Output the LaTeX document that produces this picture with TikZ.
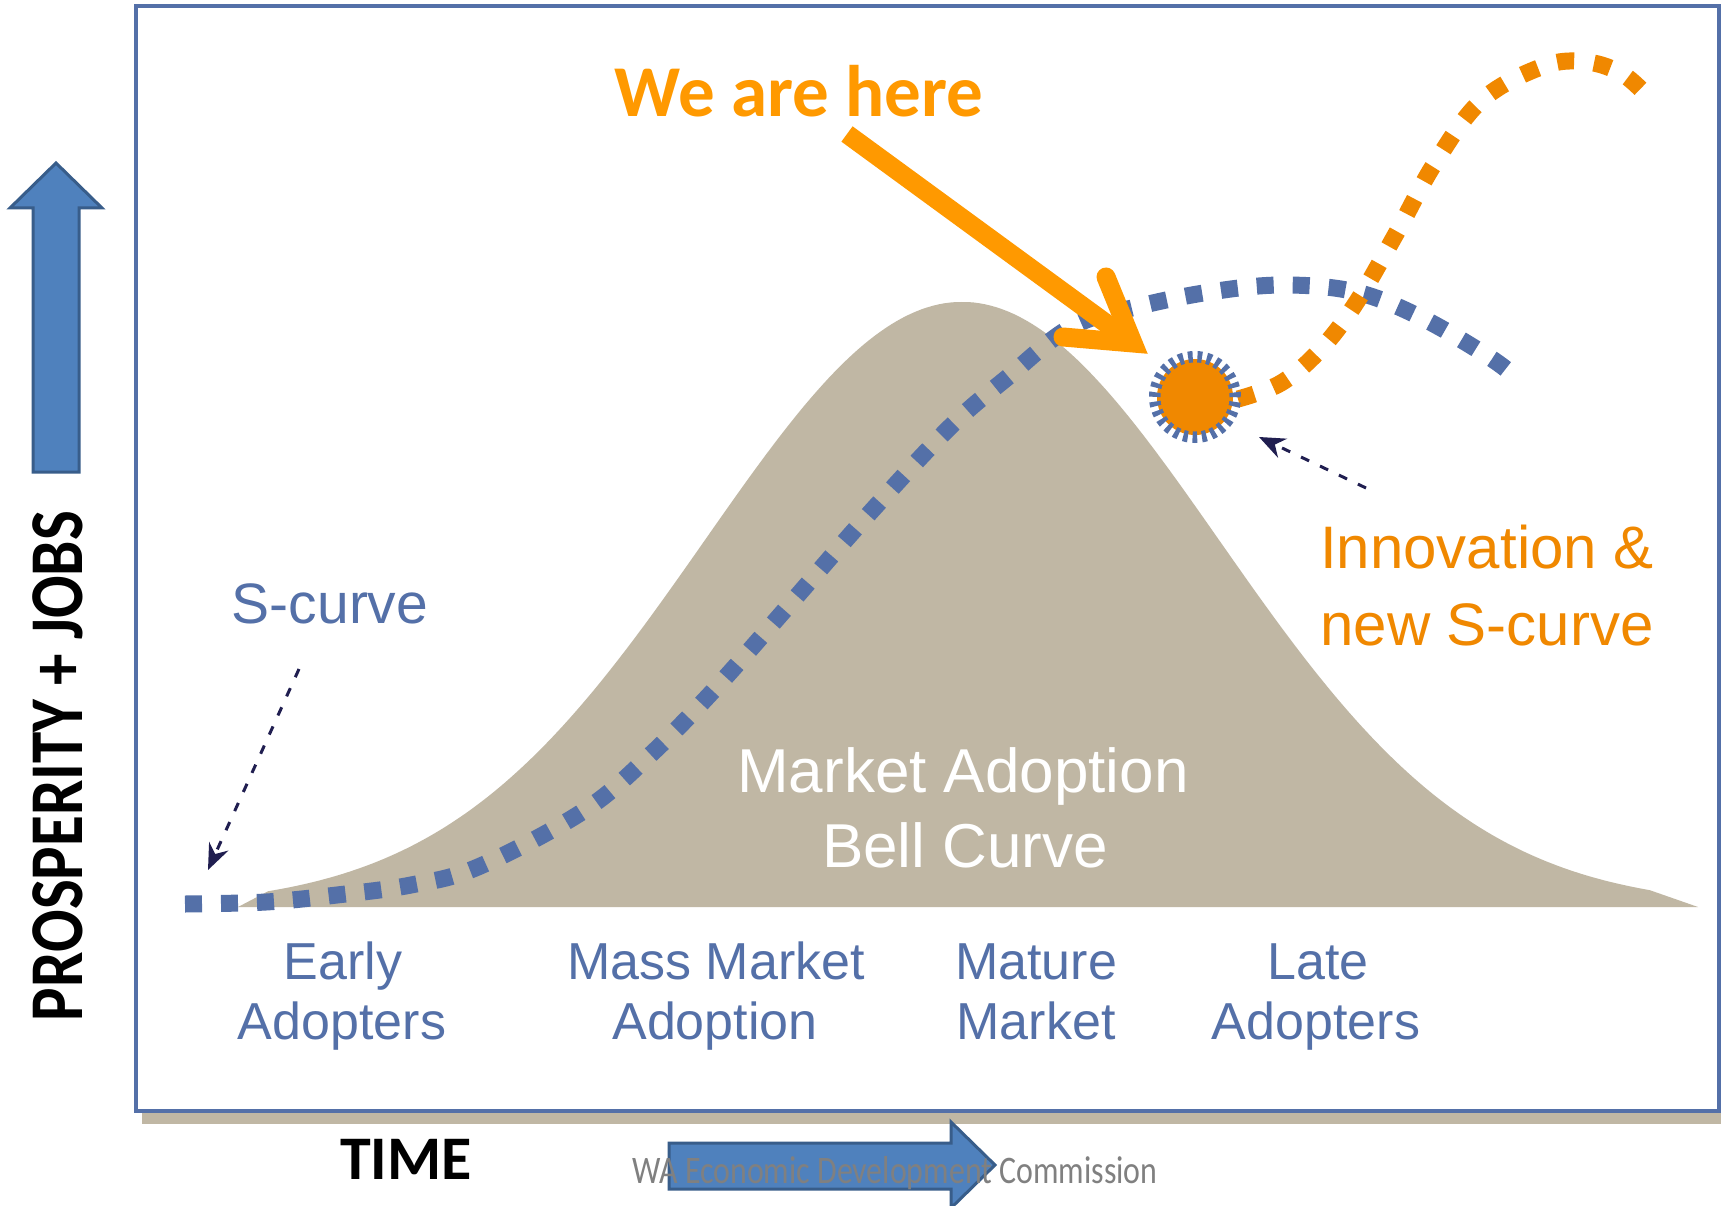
\documentclass[tikz,border=0pt]{standalone}
\usepackage{fontspec}
\usepackage{graphicx}
\newfontfamily\calfont{Carlito}
\newfontfamily\arifont{Liberation Sans}
\usetikzlibrary{arrows.meta}
\definecolor{frameblue}{RGB}{84,112,168}
\definecolor{tanc}{RGB}{192,183,164}
\definecolor{arrowfill}{RGB}{79,129,189}
\definecolor{arrowedge}{RGB}{56,93,138}
\definecolor{herearrow}{RGB}{255,153,0}
\definecolor{dotorange}{RGB}{240,136,0}
\definecolor{navyc}{RGB}{32,30,80}
\definecolor{wmgray}{RGB}{128,128,128}
\begin{document}
\begin{tikzpicture}[x=1pt,y=-1pt,
  bluedots/.style={draw=frameblue, line width=17pt, dash pattern=on 17pt off 19pt},
  orangedots/.style={draw=dotorange, line width=17pt, dash pattern=on 17pt off 20pt},
  blockarrow/.style={fill=arrowfill, draw=arrowedge, line width=3pt, line join=miter},
  navydash/.style={draw=navyc, line width=3pt, dash pattern=on 9pt off 12pt, -{Stealth[length=26pt,width=21pt]}},
  lbl/.style={text=frameblue, font=\arifont\fontsize{52}{60}\selectfont, anchor=base, inner sep=0pt},
  txt/.style={anchor=base, inner sep=0pt},
]
\clip (0,0) rectangle (1721,1206);
\fill[white] (0,0) rectangle (1721,1206);
% frame with shadow
\fill[tanc] (142,1113) rectangle (1721,1124);
\draw[frameblue, line width=4pt] (136,6) rectangle (1719,1111);
% bell curve
\fill[tanc] (238,907) -- plot[domain=268:1650, samples=240] (\x,{907-605*exp(-0.5*((\x-962)/257)^2)}) -- (1698,907) -- cycle;
\node[txt, text=white, font=\arifont\fontsize{62}{70}\selectfont] (ma1) at (963,792) {Market Adoption};
\node[txt, text=white, font=\arifont\fontsize{62}{70}\selectfont] (ma2) at (965,867) {Bell Curve};
% dashed pointer arrows
\coordinate (sfrom) at (299,669);
\coordinate (sto) at (208,870);
\draw[navydash] (sfrom) -- (sto);
\coordinate (ifrom) at (1366,488);
\coordinate (ito) at (1259,437);
\draw[navydash] (ifrom) -- (ito);
% blue S-curve
\draw[bluedots] plot[smooth, tension=0.6] coordinates {(185,904) (266,902) (337,895) (411,885) (478,867) (582,812) (648,757) (713,691) (790,604) (867,516) (950,427) (1008,377) (1071,327) (1136,307) (1210,292) (1283,285) (1356,292) (1422,318) (1489,357) (1518,379)};
% orange new S-curve
\draw[orangedots] plot[smooth, tension=0.6] coordinates {(1238,399) (1281,383) (1320,350) (1356,303) (1397,232) (1435,163) (1482,100) (1544,66) (1587,62) (1624,75) (1654,103)};
% sun
\coordinate (sun) at (1195,397);
\fill[dotorange] (sun) circle (38pt);
\draw[frameblue, line width=12pt, dash pattern=on 4.6pt off 4.7pt] (sun) circle (40pt);
\fill[dotorange] (sun) circle (34.5pt);
% we are here arrow
\coordinate (htail) at (847,134);
\coordinate (hvtx) at (1133,343);
\coordinate (harm1) at (1106,277);
\coordinate (harm2) at (1063,337);
\draw[herearrow, line width=19pt, line cap=butt] (htail) -- (hvtx);
\draw[herearrow, line width=19pt, line cap=round, line join=miter] (harm1) -- (hvtx) -- (harm2);
\node[txt, text=herearrow, font=\calfont\bfseries\fontsize{73}{80}\selectfont] (here) at (799,117) {We are here};
% labels
\node[txt, text=frameblue, font=\arifont\fontsize{57}{64}\selectfont] (slabel) at (330,623) {S-curve};
\node[txt, text=dotorange, font=\arifont\fontsize{60}{70}\selectfont] (innov1) at (1487,568) {Innovation \&};
\node[txt, text=dotorange, font=\arifont\fontsize{60}{70}\selectfont] (innov2) at (1487,645) {new S-curve};
\node[lbl] (early1) at (343,979) {Early};
\node[lbl] (early2) at (342,1039) {Adopters};
\node[lbl] (mass1) at (716,979) {Mass Market};
\node[lbl] (mass2) at (715,1039) {Adoption};
\node[lbl] (mat1) at (1036,979) {Mature};
\node[lbl] (mat2) at (1036,1039) {Market};
\node[lbl] (late1) at (1318,979) {Late};
\node[lbl] (late2) at (1316,1039) {Adopters};
% axes
\draw[blockarrow] (33,472) -- (33,208) -- (10,208) -- (56,163) -- (102,208) -- (79,208) -- (79,472) -- cycle;
\node[txt, rotate=90] (yaxis) at (82,766) {\resizebox{510pt}{\height}{\calfont\bfseries\fontsize{76}{80}\selectfont PROSPERITY + JOBS}};
\node[txt, font=\calfont\bfseries\fontsize{62}{70}\selectfont] (time) at (406,1179) {TIME};
\draw[blockarrow] (669,1143) -- (951,1143) -- (951,1122) -- (995,1165) -- (951,1208) -- (951,1189) -- (669,1189) -- cycle;
\node[txt, text=wmgray] (wm) at (895,1183) {\resizebox{525pt}{\height}{\calfont\fontsize{39}{44}\selectfont WA Economic Development Commission}};
\end{tikzpicture}
\end{document}
